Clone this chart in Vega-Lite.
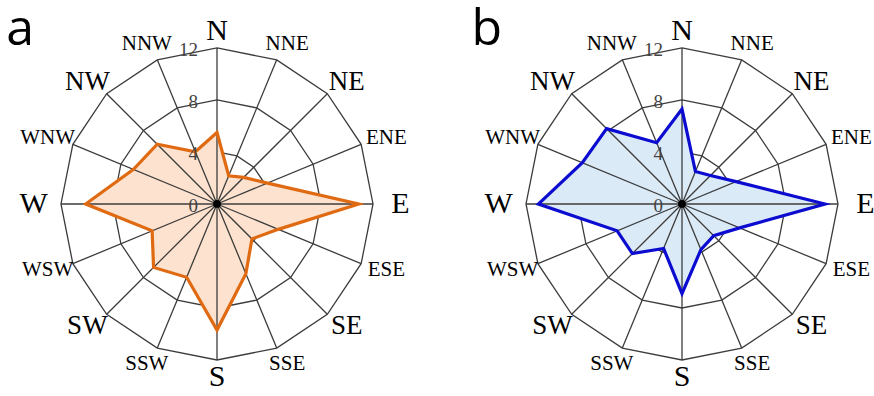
{
  "$schema": "https://vega.github.io/schema/vega-lite/v6.json",
  "autosize": {"type": "pad"},
  "padding": 0,
  "spacing": 56,
  "bounds": "flush",
  "config": {"view": {"stroke": null}, "text": {"font": "Liberation Serif"}},
  "data": {"values": [
    {"panel": "a", "dir": "N", "deg": 0, "v": 5.5},
    {"panel": "a", "dir": "NNE", "deg": 22.5, "v": 2.35},
    {"panel": "a", "dir": "NE", "deg": 45, "v": 2.9},
    {"panel": "a", "dir": "ENE", "deg": 67.5, "v": 4.2},
    {"panel": "a", "dir": "E", "deg": 90, "v": 10.9},
    {"panel": "a", "dir": "ESE", "deg": 112.5, "v": 5.1},
    {"panel": "a", "dir": "SE", "deg": 135, "v": 3.8},
    {"panel": "a", "dir": "SSE", "deg": 157.5, "v": 5.8},
    {"panel": "a", "dir": "S", "deg": 180, "v": 9.7},
    {"panel": "a", "dir": "SSW", "deg": 202.5, "v": 6.1},
    {"panel": "a", "dir": "SW", "deg": 225, "v": 6.9},
    {"panel": "a", "dir": "WSW", "deg": 247.5, "v": 5.4},
    {"panel": "a", "dir": "W", "deg": 270, "v": 10.1},
    {"panel": "a", "dir": "WNW", "deg": 292.5, "v": 6.95},
    {"panel": "a", "dir": "NW", "deg": 315, "v": 6.5},
    {"panel": "a", "dir": "NNW", "deg": 337.5, "v": 4.35},
    {"panel": "b", "dir": "N", "deg": 0, "v": 7.3},
    {"panel": "b", "dir": "NNE", "deg": 22.5, "v": 2.7},
    {"panel": "b", "dir": "NE", "deg": 45, "v": 3.1},
    {"panel": "b", "dir": "ENE", "deg": 67.5, "v": 4.5},
    {"panel": "b", "dir": "E", "deg": 90, "v": 11.0},
    {"panel": "b", "dir": "ESE", "deg": 112.5, "v": 4.8},
    {"panel": "b", "dir": "SE", "deg": 135, "v": 3.45},
    {"panel": "b", "dir": "SSE", "deg": 157.5, "v": 3.8},
    {"panel": "b", "dir": "S", "deg": 180, "v": 6.9},
    {"panel": "b", "dir": "SSW", "deg": 202.5, "v": 3.7},
    {"panel": "b", "dir": "SW", "deg": 225, "v": 5.4},
    {"panel": "b", "dir": "WSW", "deg": 247.5, "v": 5.4},
    {"panel": "b", "dir": "W", "deg": 270, "v": 11.05},
    {"panel": "b", "dir": "WNW", "deg": 292.5, "v": 8.3},
    {"panel": "b", "dir": "NW", "deg": 315, "v": 8.2},
    {"panel": "b", "dir": "NNW", "deg": 337.5, "v": 5.1}
  ]},
  "hconcat": [
    {
      "width": 434,
      "height": 396,
      "transform": [
        {"filter": "datum.panel == 'a'"},
        {"calculate": "datum.deg * PI / 180", "as": "rad"},
        {"calculate": "datum.v * sin(datum.rad)", "as": "px"},
        {"calculate": "datum.v * cos(datum.rad)", "as": "py"},
        {"calculate": "12 * sin(datum.rad)", "as": "sx"},
        {"calculate": "12 * cos(datum.rad)", "as": "sy"},
        {"calculate": "14.1 * sin(datum.rad)", "as": "lx"},
        {"calculate": "13.3 * cos(datum.rad)", "as": "ly"},
        {"calculate": "length(datum.dir)", "as": "len"}
      ],
      "layer": [
        {
          "transform": [
            {"calculate": "[4, 8, 12]", "as": "ring"},
            {"flatten": ["ring"]},
            {"calculate": "datum.ring * sin(datum.rad)", "as": "gx"},
            {"calculate": "datum.ring * cos(datum.rad)", "as": "gy"}
          ],
          "mark": {"type": "line", "interpolate": "linear-closed", "stroke": "#3c3c3c", "strokeWidth": 1.3},
          "encoding": {
            "x": {"field": "gx", "type": "quantitative", "scale": {"domain": [-16.69, 16.69], "nice": false, "zero": false}, "axis": null},
            "y": {"field": "gy", "type": "quantitative", "scale": {"domain": [-14.77, 15.69], "nice": false, "zero": false}, "axis": null},
            "detail": {"field": "ring", "type": "nominal"},
            "order": {"field": "deg", "type": "quantitative"}
          }
        },
        {
          "mark": {"type": "line", "interpolate": "linear-closed", "fill": "#fde3cf", "strokeOpacity": 0},
          "encoding": {
            "x": {"field": "px", "type": "quantitative"},
            "y": {"field": "py", "type": "quantitative"},
            "order": {"field": "deg", "type": "quantitative"}
          }
        },
        {
          "mark": {"type": "rule", "color": "#3c3c3c", "strokeWidth": 1.3},
          "encoding": {
            "x": {"field": "sx", "type": "quantitative"},
            "y": {"field": "sy", "type": "quantitative"},
            "x2": {"datum": 0},
            "y2": {"datum": 0}
          }
        },
        {
          "mark": {"type": "line", "interpolate": "linear-closed", "stroke": "#e06a12", "strokeWidth": 3.2, "fill": null},
          "encoding": {
            "x": {"field": "px", "type": "quantitative"},
            "y": {"field": "py", "type": "quantitative"},
            "order": {"field": "deg", "type": "quantitative"}
          }
        },
        {
          "transform": [{"filter": "datum.deg == 0"}],
          "mark": {"type": "circle", "color": "#000000", "opacity": 1, "size": 60},
          "encoding": {"x": {"datum": 0}, "y": {"datum": 0}}
        },
        {
          "mark": {"type": "text", "align": "center", "baseline": "middle", "color": "#000000"},
          "encoding": {
            "x": {"field": "lx", "type": "quantitative"},
            "y": {"field": "ly", "type": "quantitative"},
            "text": {"field": "dir"},
            "size": {"field": "len", "type": "ordinal", "scale": {"type": "ordinal", "domain": [1, 2, 3], "range": [30, 27, 21]}, "legend": null}
          }
        },
        {
          "transform": [
            {"filter": "datum.deg == 0"},
            {"calculate": "[0, 4, 8, 12]", "as": "tick"},
            {"flatten": ["tick"]}
          ],
          "mark": {"type": "text", "align": "right", "baseline": "middle", "dx": -19, "dy": 2, "fontSize": 19, "color": "#444444"},
          "encoding": {
            "x": {"datum": 0},
            "y": {"field": "tick", "type": "quantitative"},
            "text": {"field": "tick"}
          }
        },
        {
          "transform": [{"filter": "datum.deg == 0"}],
          "mark": {"type": "text", "align": "left", "baseline": "alphabetic", "font": "Open Sans", "fontSize": 50, "color": "#000000"},
          "encoding": {
            "x": {"datum": -16.2},
            "y": {"datum": 12.23},
            "text": {"field": "panel"}
          }
        }
      ]
    },
    {
      "width": 384,
      "height": 396,
      "transform": [
        {"filter": "datum.panel == 'b'"},
        {"calculate": "datum.deg * PI / 180", "as": "rad"},
        {"calculate": "datum.v * sin(datum.rad)", "as": "px"},
        {"calculate": "datum.v * cos(datum.rad)", "as": "py"},
        {"calculate": "12 * sin(datum.rad)", "as": "sx"},
        {"calculate": "12 * cos(datum.rad)", "as": "sy"},
        {"calculate": "14.1 * sin(datum.rad)", "as": "lx"},
        {"calculate": "13.3 * cos(datum.rad)", "as": "ly"},
        {"calculate": "length(datum.dir)", "as": "len"}
      ],
      "layer": [
        {
          "transform": [
            {"calculate": "[4, 8, 12]", "as": "ring"},
            {"flatten": ["ring"]},
            {"calculate": "datum.ring * sin(datum.rad)", "as": "gx"},
            {"calculate": "datum.ring * cos(datum.rad)", "as": "gy"}
          ],
          "mark": {"type": "line", "interpolate": "linear-closed", "stroke": "#3c3c3c", "strokeWidth": 1.3},
          "encoding": {
            "x": {"field": "gx", "type": "quantitative", "scale": {"domain": [-14.77, 14.77], "nice": false, "zero": false}, "axis": null},
            "y": {"field": "gy", "type": "quantitative", "scale": {"domain": [-14.77, 15.69], "nice": false, "zero": false}, "axis": null},
            "detail": {"field": "ring", "type": "nominal"},
            "order": {"field": "deg", "type": "quantitative"}
          }
        },
        {
          "mark": {"type": "line", "interpolate": "linear-closed", "fill": "#dbeaf7", "strokeOpacity": 0},
          "encoding": {
            "x": {"field": "px", "type": "quantitative"},
            "y": {"field": "py", "type": "quantitative"},
            "order": {"field": "deg", "type": "quantitative"}
          }
        },
        {
          "mark": {"type": "rule", "color": "#3c3c3c", "strokeWidth": 1.3},
          "encoding": {
            "x": {"field": "sx", "type": "quantitative"},
            "y": {"field": "sy", "type": "quantitative"},
            "x2": {"datum": 0},
            "y2": {"datum": 0}
          }
        },
        {
          "mark": {"type": "line", "interpolate": "linear-closed", "stroke": "#0c0cd0", "strokeWidth": 3.2, "fill": null},
          "encoding": {
            "x": {"field": "px", "type": "quantitative"},
            "y": {"field": "py", "type": "quantitative"},
            "order": {"field": "deg", "type": "quantitative"}
          }
        },
        {
          "transform": [{"filter": "datum.deg == 0"}],
          "mark": {"type": "circle", "color": "#000000", "opacity": 1, "size": 60},
          "encoding": {"x": {"datum": 0}, "y": {"datum": 0}}
        },
        {
          "mark": {"type": "text", "align": "center", "baseline": "middle", "color": "#000000"},
          "encoding": {
            "x": {"field": "lx", "type": "quantitative"},
            "y": {"field": "ly", "type": "quantitative"},
            "text": {"field": "dir"},
            "size": {"field": "len", "type": "ordinal", "scale": {"type": "ordinal", "domain": [1, 2, 3], "range": [30, 27, 21]}, "legend": null}
          }
        },
        {
          "transform": [
            {"filter": "datum.deg == 0"},
            {"calculate": "[0, 4, 8, 12]", "as": "tick"},
            {"flatten": ["tick"]}
          ],
          "mark": {"type": "text", "align": "right", "baseline": "middle", "dx": -19, "dy": 2, "fontSize": 19, "color": "#444444"},
          "encoding": {
            "x": {"datum": 0},
            "y": {"field": "tick", "type": "quantitative"},
            "text": {"field": "tick"}
          }
        },
        {
          "transform": [{"filter": "datum.deg == 0"}],
          "mark": {"type": "text", "align": "left", "baseline": "alphabetic", "font": "Open Sans", "fontSize": 50, "color": "#000000"},
          "encoding": {
            "x": {"datum": -16.2},
            "y": {"datum": 12.23},
            "text": {"field": "panel"}
          }
        }
      ]
    }
  ]
}
